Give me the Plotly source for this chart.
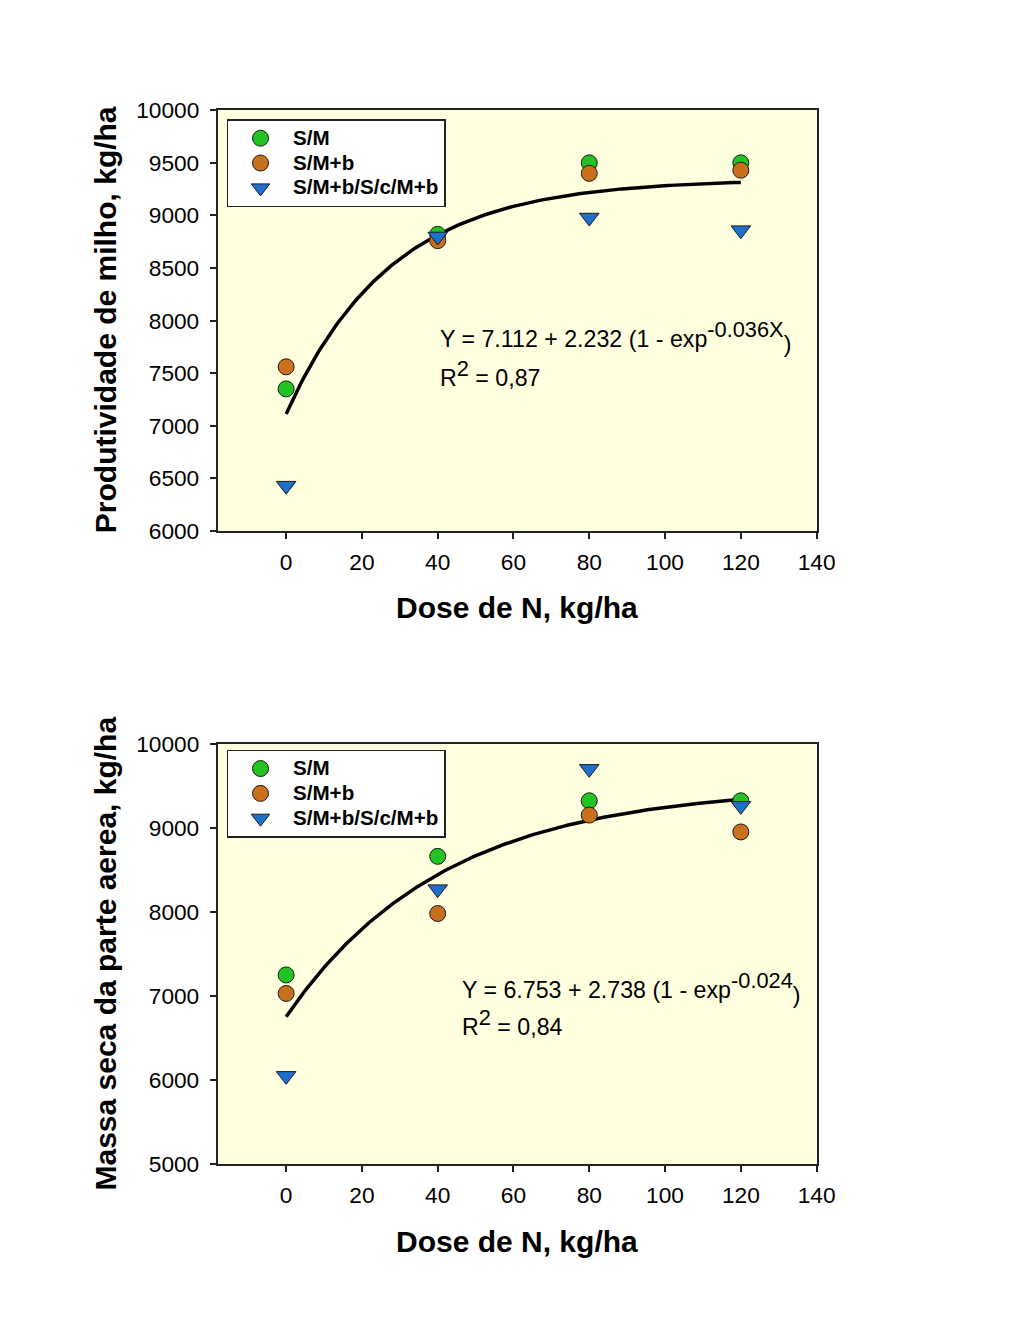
import numpy as np
import plotly.graph_objects as go

# page geometry (the figure sits inside the page body; the photo is slightly scaled)
OX, OY = 6.5, 20
W, H = 1008, 1298
SX, SY = 0.986, 0.981

doses = [0, 40, 80, 120]
series_names = ["S/M", "S/M+b", "S/M+b/S/c/M+b"]

# Top panel: Produtividade de milho (kg/ha)
prod_sm = [7350, 8820, 9500, 9500]
prod_smb = [7560, 8760, 9400, 9430]
prod_tri = [6430, 8800, 8980, 8860]
prod_fit = (7112, 2232, 0.036)

# Bottom panel: Massa seca da parte aerea (kg/ha)
mass_sm = [7250, 8660, 9320, 9320]
mass_smb = [7030, 7980, 9150, 8950]
mass_tri = [6050, 8270, 9700, 9260]
mass_fit = (6753, 2738, 0.024)

x_ticks = [0, 20, 40, 60, 80, 100, 120, 140]
top_y_ticks = [6000, 6500, 7000, 7500, 8000, 8500, 9000, 9500, 10000]
bot_y_ticks = [5000, 6000, 7000, 8000, 9000, 10000]

colors = ["#22c322", "#c8701c", "#1f6fcc"]
symbols = ["circle", "circle", "triangle-down"]


def px_x(p):
    return (p / SX - OX) / W


def px_y(p):
    return 1 - (p / SY - OY) / H


def fs(v):
    return round(v / 0.984, 1)


fig = go.Figure()

panels = [
    dict(xa="x", ya="y", data=[prod_sm, prod_smb, prod_tri], fit=prod_fit, legend="legend"),
    dict(xa="x2", ya="y2", data=[mass_sm, mass_smb, mass_tri], fit=mass_fit, legend="legend2"),
]

LEG = '<b><span style="font-size:%spx">{}</span></b>' % fs(20.3)

for p in panels:
    a, b, c = p["fit"]
    xf = np.linspace(0, 120, 200)
    yf = a + b * (1 - np.exp(-c * xf))
    fig.add_trace(go.Scatter(x=xf, y=yf, mode="lines", line=dict(color="black", width=3.5),
                             showlegend=False, xaxis=p["xa"], yaxis=p["ya"], hoverinfo="skip"))
    for name, vals, col, sym in zip(series_names, p["data"], colors, symbols):
        fig.add_trace(go.Scatter(
            x=doses, y=vals, mode="markers", name=LEG.format(name),
            marker=dict(color=col, symbol=sym, size=16 if sym == "circle" else 17,
                        line=dict(color="#1a1a1a", width=1)),
            xaxis=p["xa"], yaxis=p["ya"], legend=p["legend"]))

font_main = "Liberation Sans, Arial, sans-serif"

axis_common = dict(showline=True, linecolor="#222222", linewidth=1.5, mirror=True,
                   ticks="outside", ticklen=6, tickcolor="#222222", tickwidth=1.5,
                   showgrid=False, zeroline=False,
                   tickfont=dict(family=font_main, size=fs(22.3), color="black"))

xdom = [px_x(217), px_x(819)]
xrange = [-18.1, 140]
legend_common = dict(xanchor="left", yanchor="top", bgcolor="white", bordercolor="#222222",
                     borderwidth=1.5, itemwidth=55, tracegroupgap=0,
                     font=dict(family=font_main, size=16.8, color="black"))
fig.update_layout(
    width=W, height=H,
    margin=dict(l=0, r=0, t=0, b=0),
    paper_bgcolor="white",
    plot_bgcolor="#ffffe0",
    font=dict(family=font_main, color="black"),
    xaxis=dict(domain=xdom, range=xrange, tickvals=x_ticks, anchor="y", ticklabelstandoff=4,
               **axis_common),
    yaxis=dict(domain=[px_y(530), px_y(109)], range=[6000, 10000], tickvals=top_y_ticks,
               ticktext=[str(v) for v in top_y_ticks], anchor="x", ticklabelstandoff=6,
               **axis_common),
    xaxis2=dict(domain=xdom, range=xrange, tickvals=x_ticks, anchor="y2", ticklabelstandoff=4,
                **axis_common),
    yaxis2=dict(domain=[px_y(1164), px_y(743)], range=[5000, 10000], tickvals=bot_y_ticks,
                ticktext=[str(v) for v in bot_y_ticks], anchor="x2", ticklabelstandoff=6,
                **axis_common),
    legend=dict(x=px_x(226), y=px_y(118), **legend_common),
    legend2=dict(x=px_x(226), y=px_y(749), **legend_common),
)

SUP = '<sup><span style="font-size:%spx">{}</span></sup>' % fs(21.5)
SUBP = '<sub><span style="font-size:%spx">)</span></sub>' % fs(22.8)

ann = []
# axis titles
ann.append(dict(text="<b>Produtividade de milho, kg/ha</b>", x=px_x(104), y=px_y(319),
                textangle=-90, font=dict(size=fs(29.5))))
ann.append(dict(text="<b>Massa seca da parte aerea, kg/ha</b>", x=px_x(104), y=px_y(953),
                textangle=-90, font=dict(size=fs(29.5))))
ann.append(dict(text="<b>Dose de N, kg/ha</b>", x=px_x(518), y=px_y(607), font=dict(size=fs(29.5))))
ann.append(dict(text="<b>Dose de N, kg/ha</b>", x=px_x(518), y=px_y(1241), font=dict(size=fs(29.5))))
# equations
ann.append(dict(text="Y = 7.112 + 2.232 (1 - exp" + SUP.format("-0.036X") + SUBP,
                x=px_x(439), y=px_y(336), xanchor="left", font=dict(size=fs(22.8))))
ann.append(dict(text="R" + SUP.format("2") + " = 0,87", x=px_x(439), y=px_y(372),
                xanchor="left", font=dict(size=fs(22.8))))
ann.append(dict(text="Y = 6.753 + 2.738 (1 - exp" + SUP.format("-0.024") + SUBP,
                x=px_x(461), y=px_y(988), xanchor="left", font=dict(size=fs(22.8))))
ann.append(dict(text="R" + SUP.format("2") + " = 0,84", x=px_x(461), y=px_y(1022),
                xanchor="left", font=dict(size=fs(22.8))))

for a in ann:
    a.update(xref="paper", yref="paper", showarrow=False)
    a.setdefault("xanchor", "center")
    a["yanchor"] = "middle"
    a["font"].update(family=font_main, color="black")

fig.update_layout(annotations=ann)

fig.write_html("out.html")
